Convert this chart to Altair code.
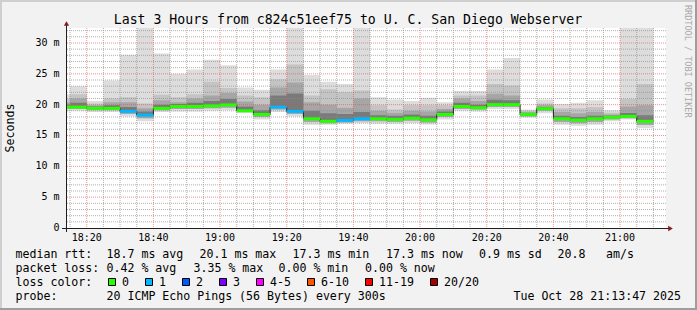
import altair as alt
import pandas as pd

# ---------------- data (time = minutes after 18:00) ----------------
bar_start = [13.78, 15, 20, 25, 30, 35, 40, 45, 50, 55, 60, 65, 70, 75, 80, 85, 90, 95,
             100, 105, 110, 115, 120, 125, 130, 135, 140, 145, 150, 155, 160, 165, 170,
             175, 180, 185]
bar_end = [15, 20, 25, 30, 35, 40, 45, 50, 55, 60, 65, 70, 75, 80, 85, 90, 95, 100,
           105, 110, 115, 120, 125, 130, 135, 140, 145, 150, 155, 160, 165, 170, 175,
           180, 185, 190]
median_ms = [19.6, 19.6, 19.4, 19.4, 18.9, 18.3, 19.4, 19.7, 19.7, 19.8, 19.95, 19.0,
             18.4, 19.6, 18.9, 17.7, 17.3, 17.45, 17.7, 17.7, 17.6, 17.8, 17.55, 18.4,
             19.7, 19.5, 20.0, 20.0, 18.4, 19.35, 17.7, 17.5, 17.7, 17.95, 18.1, 17.3]
max_ms = [21.7, 23.0, 20.6, 23.9, 28.1, 32.5, 28.3, 25.0, 25.7, 27.3, 26.4, 22.8, 22.4,
          25.7, 32.5, 24.8, 23.7, 23.35, 32.5, 21.2, 20.85, 20.6, 21.1, 20.4, 22.2, 22.2,
          25.7, 27.55, 19.2, 20.85, 20.1, 20.3, 20.7, 19.1, 32.5, 32.5]
upper1_ms = [20.9, 21.7, 20.2, 21.0, 21.2, 20.2, 21.6, 21.2, 21.7, 23.7, 22.7, 21.5, 21.2,
             24.1, 26.5, 21.5, 22.5, 22.0, 22.3, 19.9, 19.2, 19.9, 19.9, 19.9, 21.5, 21.5,
             23.35, 23.1, 19.0, 20.2, 19.4, 19.4, 19.6, 18.7, 20.9, 23.35]
upper2_ms = [20.4, 21.0, 19.9, 20.4, 20.4, 19.4, 20.7, 20.4, 21.0, 21.5, 21.9, 20.5, 20.0,
             22.8, 23.6, 20.4, 20.0, 19.5, 21.0, 19.0, 18.7, 19.0, 18.9, 19.3, 21.0, 20.6,
             21.75, 21.5, 18.8, 19.9, 18.8, 18.6, 18.8, 18.4, 19.7, 19.9]
upper3_ms = [20.0, 20.3, 19.7, 19.9, 19.6, 18.9, 20.0, 20.1, 20.3, 20.6, 20.9, 19.7, 19.1,
             21.5, 21.8, 19.0, 18.6, 18.5, 18.8, 18.3, 18.2, 18.4, 18.2, 18.9, 20.3, 20.0,
             20.8, 20.7, 18.6, 19.6, 18.2, 18.0, 18.2, 18.2, 18.65, 18.3]
lower1_ms = [19.3, 19.3, 19.1, 19.1, 18.5, 17.8, 19.1, 19.3, 19.3, 19.4, 19.5, 18.8, 18.0,
             19.2, 18.5, 17.2, 17.0, 17.1, 17.3, 17.3, 17.2, 17.4, 17.1, 18.0, 19.3, 19.2,
             19.6, 19.6, 18.1, 19.0, 17.2, 17.0, 17.2, 17.6, 17.8, 16.7]
min_ms = [19.0, 19.0, 18.8, 18.8, 18.1, 17.3, 18.8, 18.9, 18.9, 19.0, 19.1, 18.6, 17.6,
          18.8, 18.1, 16.75, 16.75, 16.9, 17.0, 16.9, 16.9, 17.0, 16.8, 17.6, 19.0, 18.9,
          19.3, 19.3, 17.9, 18.6, 16.75, 16.6, 16.75, 17.3, 17.6, 16.2]
loss_count = [0, 0, 0, 0, 1, 1, 0, 0, 0, 0, 0, 0, 0, 1, 1, 0, 0, 1, 1, 0, 0, 0, 0, 0,
              0, 0, 0, 0, 0, 0, 0, 0, 0, 0, 0, 0]

x_tick_vals = [20, 40, 60, 80, 100, 120, 140, 160, 180]
x_tick_labels = ["18:20", "18:40", "19:00", "19:20", "19:40", "20:00", "20:20", "20:40", "21:00"]
y_tick_vals = [0, 5, 10, 15, 20, 25, 30]
y_tick_labels = ["0  ", "5 m", "10 m", "15 m", "20 m", "25 m", "30 m"]

loss_labels = ["0", "1", "2", "3", "4-5", "6-10", "11-19", "20/20"]
loss_colors = ["#26ff00", "#00b8ff", "#0059ff", "#7e00ff", "#ff00ff", "#ff5500", "#ff0000", "#a00000"]

title = "Last 3 Hours from c824c51eef75 to U. C. San Diego Webserver"
row_rtt = [("median rtt:", 16), ("18.7 ms avg", 107), ("20.1 ms max", 200),
           ("17.3 ms min", 293), ("17.3 ms now", 386.5), ("0.9 ms sd", 479.5),
           ("20.8", 558), ("am/s", 606.5)]
row_loss = [("packet loss:", 16), ("0.42 % avg", 107), ("3.35 % max", 194),
            ("0.00 % min", 279), ("0.00 % now", 365.5)]
probe_text = "20 ICMP Echo Pings (56 Bytes) every 300s"
date_text = "Tue Oct 28 21:13:47 2025"

# ---------------- layout ----------------
FONT = "DejaVu Sans Mono"
L, T = 66, 28
W, H = 600, 200
XS = alt.Scale(domain=[13.78, 193.78], nice=False, zero=False)
YS = alt.Scale(domain=[0, 32.43], nice=False, zero=False)
one = pd.DataFrame({"k": [0]})


def nb(s):
    return s.replace(" ", "\u00a0")


def txt(text, x, y, size=11.6, align="left", baseline="alphabetic", color="#000000", angle=0):
    return alt.Chart(one).mark_text(
        text=nb(text), align=align, baseline=baseline, fontSize=size, font=FONT,
        color=color, angle=angle
    ).encode(x=alt.value(x - L), y=alt.value(y - T))


def band_layer(lo, hi, color):
    df = pd.DataFrame({
        "t": bar_start + [bar_end[-1]],
        "lo": lo + [lo[-1]],
        "hi": hi + [hi[-1]],
    })
    return alt.Chart(df).mark_area(interpolate="step-after", clip=True, color=color).encode(
        x=alt.X("t:Q", scale=XS, axis=None),
        y=alt.Y("lo:Q", scale=YS, axis=None, stack=None),
        y2="hi:Q",
    )


layers = []
layers.append(band_layer(min_ms, max_ms, "#dddddd"))
layers.append(band_layer(lower1_ms, upper1_ms, "#c4c4c4"))
layers.append(band_layer(lower1_ms, upper2_ms, "#a6a6a6"))
layers.append(band_layer(median_ms, upper3_ms, "#7a7a7a"))

# grid
minor_t = [v for v in range(15, 191, 5) if v % 20 != 0]
minor_y = [v for v in range(1, 33) if v % 5 != 0]
major_t = list(range(20, 181, 20))
major_y = list(range(5, 31, 5))
gdash = [1, 1]
layers.append(alt.Chart(pd.DataFrame({"t": minor_t})).mark_rule(
    color="#8f8f8f", opacity=0.7, strokeDash=gdash, strokeWidth=1).encode(
    x=alt.X("t:Q", scale=XS, axis=None)))
layers.append(alt.Chart(pd.DataFrame({"v": minor_y})).mark_rule(
    color="#8f8f8f", opacity=0.7, strokeDash=gdash, strokeWidth=1).encode(
    y=alt.Y("v:Q", scale=YS, axis=None)))
layers.append(alt.Chart(pd.DataFrame({"t": major_t})).mark_rule(
    color="#de4f4f", opacity=0.6, strokeDash=gdash, strokeWidth=1).encode(
    x=alt.X("t:Q", scale=XS, axis=None)))
layers.append(alt.Chart(pd.DataFrame({"v": major_y})).mark_rule(
    color="#de4f4f", opacity=0.6, strokeDash=gdash, strokeWidth=1).encode(
    y=alt.Y("v:Q", scale=YS, axis=None)))

# median: dark step line then loss-coloured segments
med_line = pd.DataFrame({"t": bar_start + [bar_end[-1]], "m": median_ms + [median_ms[-1]]})
layers.append(alt.Chart(med_line).mark_line(interpolate="step-after", color="#202020",
                                            strokeWidth=1).encode(
    x=alt.X("t:Q", scale=XS, axis=None), y=alt.Y("m:Q", scale=YS, axis=None)))
seg = pd.DataFrame({"s": bar_start, "e": bar_end, "m": median_ms,
                    "loss": [loss_labels[c] for c in loss_count]})
layers.append(alt.Chart(seg).mark_rule(strokeWidth=3).encode(
    x=alt.X("s:Q", scale=XS, axis=None), x2="e:Q",
    y=alt.Y("m:Q", scale=YS, axis=None),
    color=alt.Color("loss:N", scale=alt.Scale(domain=loss_labels, range=loss_colors), legend=None)))

# axes
AX = "#1f1f1f"
layers.append(alt.Chart(one).mark_rule(color=AX, strokeWidth=1).encode(
    x=alt.value(-4), x2=alt.value(603), y=alt.value(200.5)))
layers.append(alt.Chart(one).mark_rule(color=AX, strokeWidth=1).encode(
    x=alt.value(0.5), y=alt.value(204), y2=alt.value(-3)))
layers.append(alt.Chart(one).mark_point(shape="triangle-right", filled=True, size=28,
                                        color="#7f1f1f", opacity=1).encode(
    x=alt.value(604.5), y=alt.value(200.5)))
layers.append(alt.Chart(one).mark_point(shape="triangle-up", filled=True, size=28,
                                        color="#7f1f1f", opacity=1).encode(
    x=alt.value(0.5), y=alt.value(-4.5)))

# tick labels
layers.append(alt.Chart(pd.DataFrame({"t": x_tick_vals, "lab": x_tick_labels})).mark_text(
    font=FONT, fontSize=10, baseline="alphabetic", align="center", color="#000000").encode(
    x=alt.X("t:Q", scale=XS, axis=None), y=alt.value(212.7), text="lab:N"))
layers.append(alt.Chart(pd.DataFrame({"v": y_tick_vals,
                                      "lab": [nb(s) for s in y_tick_labels]})).mark_text(
    font=FONT, fontSize=10, baseline="middle", align="right", color="#000000").encode(
    y=alt.Y("v:Q", scale=YS, axis=None), x=alt.value(-6.5), text="lab:N"))

# titles
layers.append(txt(title, 348, 23.5, size=13.2, align="center"))
layers.append(txt("Seconds", 10.5, 128, size=11.6, align="center", baseline="middle", angle=270))
layers.append(txt("RRDTOOL / TOBI OETIKER", 687.5, 5, size=8.5, align="left",
                  baseline="middle", color="#a8a8a8", angle=90))

# legend rows
for s, x in row_rtt:
    layers.append(txt(s, x - 0.5, 258.2))
for s, x in row_loss:
    layers.append(txt(s, x - 0.5, 272))
layers.append(txt("loss color:", 15.5, 285.8))
sq_x = [108.5, 145.5, 182.5, 219.5, 256.5, 307.5, 365.5, 430.5]
for sx, lab, col in zip(sq_x, loss_labels, loss_colors):
    layers.append(alt.Chart(one).mark_rect(fill=col, stroke="#000000", strokeWidth=1).encode(
        x=alt.value(sx - L), x2=alt.value(sx + 7 - L),
        y=alt.value(278.5 - T), y2=alt.value(285.5 - T)))
    layers.append(txt(lab, sx + 13.5, 285.8))
layers.append(txt("probe:", 15.5, 299.6))
layers.append(txt(probe_text, 106.5, 299.6))
layers.append(txt(date_text, 681, 299.6, align="right"))

# 3D frame
layers.append(alt.Chart(one).mark_rule(color="#cfcfcf", strokeWidth=2).encode(
    x=alt.value(-L), x2=alt.value(631), y=alt.value(-T + 1)))
layers.append(alt.Chart(one).mark_rule(color="#cfcfcf", strokeWidth=2).encode(
    x=alt.value(-L + 1), y=alt.value(-T), y2=alt.value(282)))
layers.append(alt.Chart(one).mark_rule(color="#9e9e9e", strokeWidth=2).encode(
    x=alt.value(-L), x2=alt.value(631), y=alt.value(281)))
layers.append(alt.Chart(one).mark_rule(color="#9e9e9e", strokeWidth=2).encode(
    x=alt.value(630), y=alt.value(-T), y2=alt.value(282)))

chart = alt.layer(*layers).resolve_scale(color="independent").properties(
    width=W, height=H,
    padding={"left": L, "top": T, "right": 697 - L - W, "bottom": 310 - T - H},
    autosize=alt.AutoSizeParams(type="none"),
    background="#f2f2f2",
).configure_view(stroke=None, fill="#ffffff")

chart.save("out.html", embed_options={"renderer": "svg", "actions": False})
